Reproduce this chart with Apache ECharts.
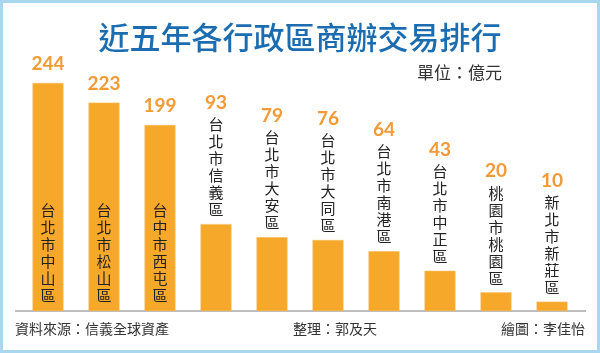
<!DOCTYPE html>
<html>
<head>
<meta charset="utf-8">
<script src="https://cdn.jsdelivr.net/npm/echarts@6/dist/echarts.min.js"></script>
<style>
  html, body { margin: 0; padding: 0; background: #fff; }
  #chart { width: 600px; height: 353px; }
</style>
</head>
<body>
<div id="chart"></div>
<script>
var districts = ['台北市中山區', '台北市松山區', '台中市西屯區', '台北市信義區', '台北市大安區',
                 '台北市大同區', '台北市南港區', '台北市中正區', '桃園市桃園區', '新北市新莊區'];
var amounts = [244, 223, 199, 93, 79, 76, 64, 43, 20, 10];
// first three bars carry their name inside the bar
var insideCount = 3;

var chartDom = document.getElementById('chart');
var myChart = echarts.init(chartDom);
var option;

function vertical(name) {
    return name.split('').join('\n');
}

var mainData = amounts.map(function (v, i) {
    var text = i < insideCount ? '{v|' + v + '}' : '{v|' + v + '}\n{c|' + vertical(districts[i]) + '}';
    return { value: v, label: { formatter: text } };
});
var nameData = amounts.map(function (v, i) {
    return {
        value: v,
        label: { show: i < insideCount, formatter: vertical(districts[i]) }
    };
});

option = {
    animation: false,
    title: {
        text: '近五年各行政區商辦交易排行',
        left: 'center',
        top: 17,
        textStyle: {
            color: '#1c6cb1',
            fontSize: 31,
            fontWeight: 500,
            fontFamily: 'Noto Sans CJK TC'
        }
    },
    grid: { left: 20, right: 20, top: 68, bottom: 42 },
    xAxis: {
        type: 'category',
        data: districts,
        axisLine: { show: false },
        axisTick: { show: false },
        axisLabel: { show: false }
    },
    yAxis: {
        type: 'value',
        min: 0,
        max: 260,
        show: false,
        splitLine: { show: false }
    },
    series: [
        {
            type: 'bar',
            data: mainData,
            barWidth: 31,
            itemStyle: { color: '#f6a82a', borderColor: '#f8bd5c', borderWidth: 0.6 },
            label: {
                show: true,
                position: 'top',
                distance: 6,
                align: 'center',
                rich: {
                    v: {
                        color: '#f29a35',
                        fontSize: 19,
                        fontWeight: 'bold',
                        fontFamily: 'Lato',
                        lineHeight: 26,
                        align: 'center'
                    },
                    c: {
                        color: '#222',
                        fontSize: 15,
                        lineHeight: 17,
                        fontFamily: 'Noto Sans CJK TC',
                        align: 'center'
                    }
                }
            }
        },
        {
            type: 'bar',
            data: nameData,
            barWidth: 31,
            barGap: '-100%',
            itemStyle: { color: 'rgba(0,0,0,0)' },
            label: {
                position: 'insideBottom',
                distance: 7,
                color: '#222',
                fontSize: 15,
                lineHeight: 17,
                fontFamily: 'Noto Sans CJK TC'
            }
        }
    ],
    graphic: [
        {
            type: 'rect',
            shape: { x: 0, y: 0, width: 600, height: 353 },
            style: { fill: 'none', stroke: '#a9d7f0', lineWidth: 6 },
            silent: true
        },
        {
            type: 'line',
            shape: { x1: 15, y1: 311, x2: 586, y2: 311 },
            style: { stroke: '#bdbdbd', lineWidth: 2 }
        },
        {
            type: 'text',
            right: 98,
            top: 64,
            style: { text: '單位：億元', fill: '#333', fontSize: 17, fontFamily: 'Noto Sans CJK TC' }
        },
        {
            type: 'text',
            left: 15,
            top: 322,
            style: { text: '資料來源：信義全球資產', fill: '#333', fontSize: 14, fontFamily: 'Noto Sans CJK TC' }
        },
        {
            type: 'text',
            left: 293,
            top: 322,
            style: { text: '整理：郭及天', fill: '#333', fontSize: 14, fontFamily: 'Noto Sans CJK TC' }
        },
        {
            type: 'text',
            right: 15,
            top: 322,
            style: { text: '繪圖：李佳怡', fill: '#333', fontSize: 14, fontFamily: 'Noto Sans CJK TC' }
        }
    ]
};

option && myChart.setOption(option);
window.addEventListener("resize", function () {
    myChart.resize();
});
</script>
</body>
</html>
